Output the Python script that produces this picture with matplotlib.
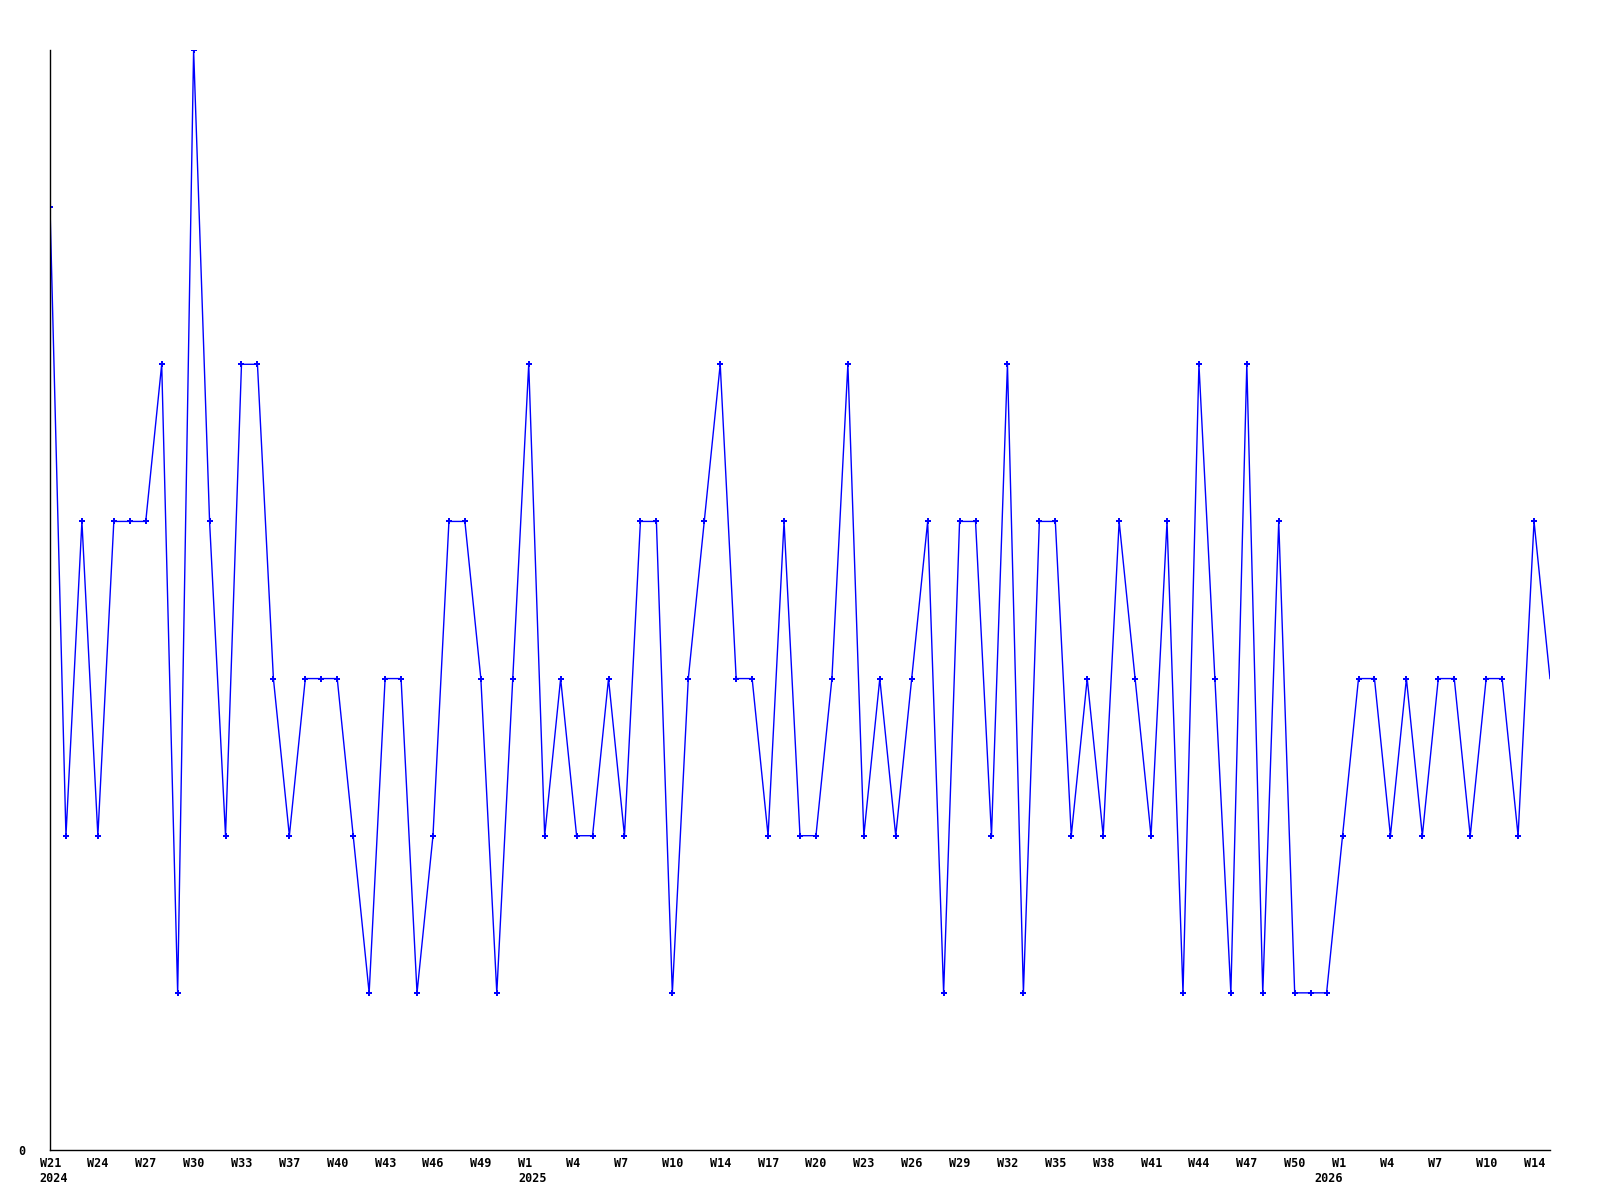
"""Weekly counts line chart, W21 2024 - W15 2026."""
import matplotlib
matplotlib.use('Agg')
import matplotlib.pyplot as plt
import matplotlib.transforms as mtransforms

# Values per period
values = [6, 2, 4, 2, 4, 4, 4, 5, 1, 7,
          4, 2, 5, 5, 3, 2, 3, 3, 3, 2,
          1, 3, 3, 1, 2, 4, 4, 3, 1, 3,
          5, 2, 3, 2, 2, 3, 2, 4, 4, 1,
          3, 4, 5, 3, 3, 2, 4, 2, 2, 3,
          5, 2, 3, 2, 3, 4, 1, 4, 4, 2,
          5, 1, 4, 4, 2, 3, 2, 4, 3, 2,
          4, 1, 5, 3, 1, 5, 1, 4, 1, 1,
          1, 2, 3, 3, 2, 3, 2, 3, 3, 2,
          3, 3, 2, 4, 3]

# One label every third period
tick_labels = ['W21', 'W24', 'W27', 'W30', 'W33', 'W37', 'W40', 'W43',
               'W46', 'W49', 'W1', 'W4', 'W7', 'W10', 'W14', 'W17',
               'W20', 'W23', 'W26', 'W29', 'W32', 'W35', 'W38', 'W41',
               'W44', 'W47', 'W50', 'W1', 'W4', 'W7', 'W10', 'W14']
years = ['2024', '2025', '2026']
year_tick = [0, 10, 27]  # which tick label carries the year

x = list(range(len(values)))
tick_pos = x[::3][:len(tick_labels)]

fig = plt.figure(figsize=(16, 12), dpi=100)
ax = fig.add_axes([50 / 1600, 50 / 1200, 1500 / 1600, 1100 / 1200])

ax.plot(x, values, color='#0000ff', linewidth=1.0)
ax.plot(x[:-1], values[:-1], linestyle='none', marker='P', markersize=4,
        markeredgewidth=0, color='#0000ff')

ax.set_xlim(0, len(values) - 1)
ax.set_ylim(0, max(values))

for side in ['top', 'right']:
    ax.spines[side].set_visible(False)
for side in ['left', 'bottom']:
    ax.spines[side].set_linewidth(1.0)
    ax.spines[side].set_color('black')

font = dict(family='DejaVu Sans Mono', fontweight='bold', fontsize=8.5)

ax.set_yticks([0])
ax.set_yticklabels(['0'], **font)
ax.tick_params(axis='y', length=0, pad=18)

ax.set_xticks(tick_pos)
ax.set_xticklabels(tick_labels, ha='left', va='top', **font)
ax.tick_params(axis='x', length=0, pad=5)

shift = mtransforms.ScaledTranslation(-10.5 / 100, 0, fig.dpi_scale_trans)
for lbl in ax.get_xticklabels():
    lbl.set_transform(lbl.get_transform() + shift)

# year line under the first week label of each year
blend = mtransforms.blended_transform_factory(ax.transData, fig.transFigure)
for yr, t in zip(years, year_tick):
    xpos = tick_pos[t]
    if yr == '2026':
        off = mtransforms.ScaledTranslation(0.5 / 100, 0, fig.dpi_scale_trans)
        ha = 'right'
    else:
        off = mtransforms.ScaledTranslation(-10.5 / 100, 0, fig.dpi_scale_trans)
        ha = 'left'
    ax.text(xpos, (1200 - 1172) / 1200, yr, transform=blend + off,
            ha=ha, va='top', **font)

fig.savefig('out.png', dpi=100, facecolor='white')
plt.close(fig)
print("OK: out.png")
